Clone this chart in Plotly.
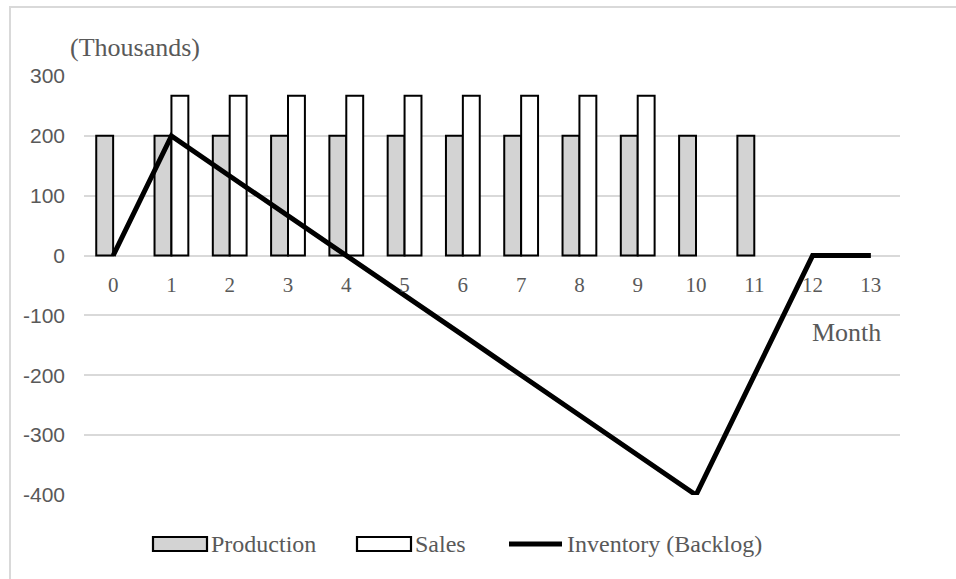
import plotly.graph_objects as go

# Monthly production plan, sales and resulting inventory (thousands of units)
months = [0, 1, 2, 3, 4, 5, 6, 7, 8, 9, 10, 11, 12, 13]
month_labels = ["0", "1", "2", "3", "4", "5", "6", "7", "8", "9", "10", "11", "12", "13"]
production = [200, 200, 200, 200, 200, 200, 200, 200, 200, 200, 200, 200, None, None]
sales = [None, 267, 267, 267, 267, 267, 267, 267, 267, 267, None, None, None, None]
inventory = [0, 200, 133, 67, 0, -67, -133, -200, -267, -333, -400, -200, 0, 0]
y_ticks = [300, 200, 100, 0, -100, -200, -300, -400]
y_tick_labels = ["300", "200", "100", "0", "-100", "-200", "-300", "-400"]
series_names = ["Production", "Sales", "Inventory (Backlog)"]

W, H = 956, 579
ML, MR, MT, MB = 84, 56, 76, 84
PW, PH = W - ML - MR, H - MT - MB

TEXT = "#595959"
GRID = "#d9d9d9"
SERIF = "Liberation Serif, Times New Roman, serif"
SANS = "Liberation Sans, Arial, sans-serif"


def px(x):
    return (x - ML) / PW


def py(y):
    return (H - MB - y) / PH


fig = go.Figure()
fig.add_trace(go.Bar(x=months, y=production, name=series_names[0],
                     marker=dict(color="#d3d3d3", line=dict(color="black", width=2)),
                     showlegend=False))
fig.add_trace(go.Bar(x=months, y=sales, name=series_names[1],
                     marker=dict(color="white", line=dict(color="black", width=2)),
                     showlegend=False))
fig.add_trace(go.Scatter(x=months, y=inventory, name=series_names[2], mode="lines",
                         line=dict(color="black", width=5), showlegend=False))

y_min, y_max = -400, 300
zero_pos = (0 - y_min) / (y_max - y_min)

fig.update_layout(
    width=W, height=H,
    margin=dict(l=ML, r=MR, t=MT, b=MB),
    paper_bgcolor="white", plot_bgcolor="white",
    barmode="group", bargap=0.42, bargroupgap=0,
    xaxis=dict(range=[-0.5, 13.5], tickmode="array", tickvals=months, ticktext=month_labels,
               anchor="free", position=zero_pos, showgrid=False, zeroline=False,
               showline=False, ticks="", ticklabelstandoff=14,
               tickfont=dict(family=SERIF, size=21, color=TEXT)),
    yaxis=dict(range=[y_min, y_max], domain=[0, 1], tickmode="array", tickvals=y_ticks,
               ticktext=y_tick_labels,
               showgrid=True, gridcolor=GRID, gridwidth=1.5,
               zeroline=True, zerolinecolor=GRID, zerolinewidth=1.5,
               showline=False, ticks="", ticklabelstandoff=18,
               tickfont=dict(family=SANS, size=21, color=TEXT)),
)

annotations = [
    dict(text="(Thousands)", x=px(68), y=py(47), xanchor="left", yanchor="middle",
         font=dict(family=SERIF, size=26, color=TEXT)),
    dict(text="Month", x=px(883), y=py(332), xanchor="right", yanchor="middle",
         font=dict(family=SERIF, size=26, color=TEXT)),
]

# Legend drawn as swatches and labels below the plot
legend_y = 544
swatches = [(153, 207, "#d3d3d3"), (357, 411, "white")]
shapes = []
for x0, x1, fill in swatches:
    shapes.append(dict(type="rect", xref="paper", yref="paper",
                       x0=px(x0), x1=px(x1), y0=py(legend_y + 7), y1=py(legend_y - 7),
                       fillcolor=fill, line=dict(color="black", width=2.2)))
shapes.append(dict(type="line", xref="paper", yref="paper",
                   x0=px(509), x1=px(562), y0=py(legend_y), y1=py(legend_y),
                   line=dict(color="black", width=5)))
for name, x in zip(series_names, [209, 413, 565]):
    annotations.append(dict(text=name, x=px(x), y=py(legend_y), xanchor="left",
                            yanchor="middle", font=dict(family=SERIF, size=24, color=TEXT)))

# Outer frame of the chart
shapes.append(dict(type="rect", xref="paper", yref="paper",
                   x0=px(10), x1=px(W + 20), y0=py(H + 20), y1=py(7),
                   fillcolor="rgba(0,0,0,0)", line=dict(color=GRID, width=2)))

for a in annotations:
    a.update(xref="paper", yref="paper", showarrow=False)
fig.update_layout(annotations=annotations, shapes=shapes)

fig.write_html("out.html")
